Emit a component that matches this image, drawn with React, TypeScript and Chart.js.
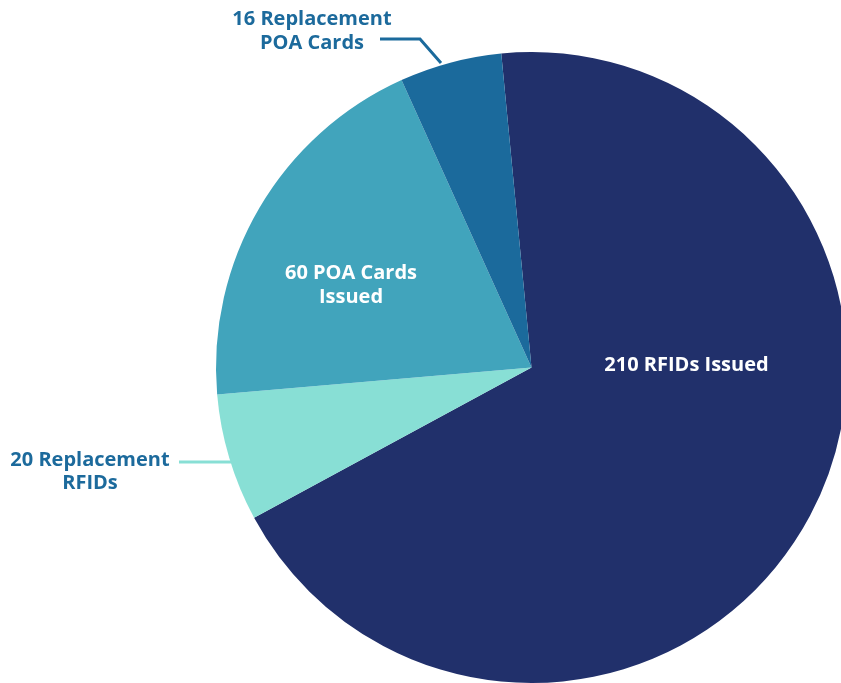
import React, { useEffect, useRef } from "react";
import { Chart, registerables } from "chart.js";

Chart.register(...registerables);

const categories = ["210 RFIDs Issued", "20 Replacement RFIDs", "60 POA Cards Issued", "16 Replacement POA Cards"];
const values = [210, 20, 60, 16];
const colors = ["#21306B", "#88DFD5", "#41A4BC", "#1B6A9C"];
const labelLines = [["210 RFIDs Issued"], ["20 Replacement", "RFIDs"], ["60 POA Cards", "Issued"], ["16 Replacement", "POA Cards"]];

const FONT = "bold 20px 'Open Sans', 'Noto Sans', sans-serif";

const labelPlugin = {
  id: "pieLabels",
  afterDraw(chart: any) {
    const ctx = chart.ctx;
    const arc = chart.getDatasetMeta(0).data[0];
    if (!arc) return;
    const cx = arc.x;
    const cy = arc.y;
    const R = arc.outerRadius;
    ctx.save();
    ctx.font = FONT;
    ctx.textAlign = "center";
    ctx.textBaseline = "alphabetic";
    // inner labels (white)
    ctx.fillStyle = "#FFFFFF";
    ctx.fillText(labelLines[0][0], cx + 155, cy + 3.5);
    ctx.fillText(labelLines[2][0], cx - 180.5, cy - 88.5);
    ctx.fillText(labelLines[2][1], cx - 180.5, cy - 64.5);
    // outer labels
    ctx.fillStyle = "#1C6A9C";
    ctx.fillText(labelLines[3][0], cx - 219.5, cy - 342.5);
    ctx.fillText(labelLines[3][1], cx - 219.5, cy - 318.5);
    ctx.fillText(labelLines[1][0], cx - 441.5, cy + 98.5);
    ctx.fillText(labelLines[1][1], cx - 441.5, cy + 121.5);
    // leader lines
    ctx.lineWidth = 3;
    ctx.lineJoin = "miter";
    ctx.strokeStyle = colors[3];
    ctx.beginPath();
    ctx.moveTo(cx - 151.5, cy - 328.5);
    ctx.lineTo(cx - 111.5, cy - 328.5);
    ctx.lineTo(cx - 90.5, cy - 304.5);
    ctx.stroke();
    ctx.strokeStyle = colors[1];
    const ly = 94.5;
    const ex = cx - Math.sqrt(R * R - ly * ly);
    ctx.beginPath();
    ctx.moveTo(cx - 352.5, cy + ly);
    ctx.lineTo(ex + 1, cy + ly);
    ctx.stroke();
    ctx.restore();
  },
};

export default function App() {
  const ref = useRef<HTMLCanvasElement | null>(null);
  useEffect(() => {
    document.body.style.margin = "0";
    const canvas = ref.current;
    if (!canvas) return;
    const chart = new Chart(canvas, {
      type: "pie",
      data: {
        labels: categories,
        datasets: [
          {
            data: values,
            backgroundColor: colors,
            borderWidth: 0,
            hoverOffset: 0,
          },
        ],
      },
      options: {
        responsive: false,
        animation: false,
        rotation: -5.5,
        layout: { padding: { top: 52, bottom: 0, left: 216, right: 53 } },
        plugins: {
          legend: { display: false },
          tooltip: { enabled: false },
        },
      },
      plugins: [labelPlugin],
    });
    return () => chart.destroy();
  }, []);
  return (
    <div style={{ width: 841, height: 683, overflow: "hidden", position: "relative", background: "#fff" }}>
      <canvas ref={ref} width={900} height={683} style={{ display: "block" }} />
    </div>
  );
}
